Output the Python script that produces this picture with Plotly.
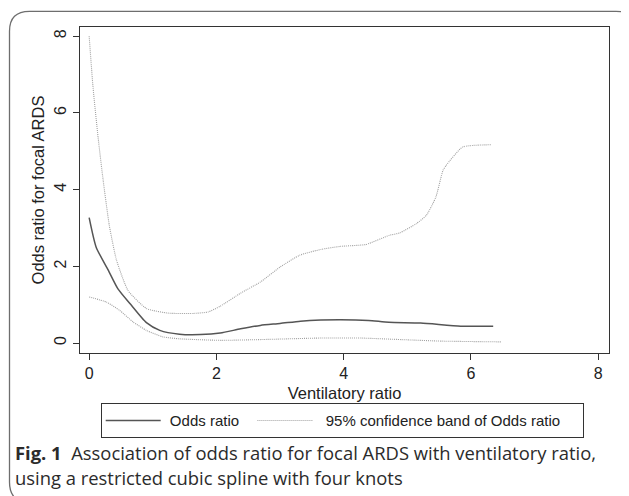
import plotly.graph_objects as go

# ---- data ----
x_or = [0, 0.11, 0.30, 0.45, 0.64, 0.90, 1.11, 1.42, 1.75, 2.06, 2.38, 2.69, 3.00, 3.32, 3.64, 3.95, 4.39, 4.71, 5.21, 5.84, 6.35]
y_or = [3.27, 2.50, 1.90, 1.42, 1.03, 0.53, 0.33, 0.23, 0.22, 0.26, 0.37, 0.46, 0.51, 0.57, 0.60, 0.61, 0.59, 0.54, 0.52, 0.44, 0.44]

x_up = [0, 0.06, 0.14, 0.22, 0.32, 0.43, 0.61, 0.90, 1.24, 1.62, 1.87, 2.06, 2.38, 2.69, 3.00, 3.31, 3.64, 3.95,
        4.35, 4.72, 4.88, 5.14, 5.30, 5.45, 5.56, 5.61, 5.87, 6.33]
y_up = [8.00, 6.68, 5.37, 4.24, 3.03, 2.16, 1.37, 0.90, 0.78, 0.77, 0.81, 0.96, 1.30, 1.59, 1.98, 2.29, 2.44, 2.52,
        2.57, 2.81, 2.87, 3.11, 3.33, 3.81, 4.50, 4.63, 5.11, 5.17]

x_lo = [0, 0.27, 0.48, 0.69, 0.90, 1.16, 1.42, 2.06, 2.69, 3.64, 4.26, 4.90, 5.53, 6.47]
y_lo = [1.20, 1.07, 0.85, 0.55, 0.33, 0.16, 0.11, 0.07, 0.09, 0.13, 0.13, 0.09, 0.05, 0.03]

x_ticks = [0, 2, 4, 6, 8]
y_ticks = [0, 2, 4, 6, 8]

x_title = "Ventilatory ratio"
y_title = "Odds ratio for focal ARDS"
name_or = "Odds ratio"
name_ci = "95% confidence band of Odds ratio"
caption_bold = "Fig. 1"
caption_line1 = "Association of odds ratio for focal ARDS with ventilatory ratio,"
caption_line2 = "using a restricted cubic spline with four knots"

# ---- layout geometry (page pixels; the page body adds an 8px offset) ----
OFF = 8
W, H = 629 - OFF, 496 - OFF
PL, PR, PT, PB = 80, 609, 26.7, 352.7          # plot box in page pixels
ML, MR, MT, MB = PL - OFF, W - (PR - OFF), PT - OFF, H - (PB - OFF)
PW = W - ML - MR
PH = H - MT - MB


def px2x(px):
    return (px - OFF - ML) / PW


def py2y(py):
    return (H - MB - (py - OFF)) / PH


NB = "\u00a0"
AXFONT = "Liberation Sans, Arial, sans-serif"
SOLID = "#555555"
DOT = "#a0a0a0"

fig = go.Figure()
fig.add_trace(go.Scatter(x=x_or, y=y_or, mode="lines", name=NB + name_or + NB * 2,
                         line=dict(color=SOLID, width=1.5, shape="spline", smoothing=0.6)))
fig.add_trace(go.Scatter(x=x_up, y=y_up, mode="lines", name=NB * 2 + name_ci + NB * 4, legendgroup="ci",
                         line=dict(color=DOT, width=1.1, dash="1px,1px", shape="spline", smoothing=0.5)))
fig.add_trace(go.Scatter(x=x_lo, y=y_lo, mode="lines", name=name_ci, legendgroup="ci", showlegend=False,
                         line=dict(color=DOT, width=1.1, dash="1px,1px", shape="spline", smoothing=0.5)))

axis_common = dict(showline=True, mirror=True, linecolor="#333333", linewidth=1.3,
                   ticks="outside", ticklen=6, tickwidth=1.2, tickcolor="#333333",
                   showgrid=False, zeroline=False,
                   tickfont=dict(family=AXFONT, size=16, color="#222222"))

fig.update_xaxes(range=[-0.144, 8.17], tickvals=x_ticks, ticktext=[str(v) for v in x_ticks],
                 title=dict(text=x_title, font=dict(family=AXFONT, size=16.5, color="#222222"), standoff=6),
                 **axis_common)
fig.update_yaxes(range=[-0.26, 8.24], tickvals=y_ticks, ticktext=[str(v) for v in y_ticks], tickangle=-90,
                 title=dict(text=y_title, font=dict(family=AXFONT, size=16.5, color="#222222"), standoff=3),
                 **axis_common)

# outer rounded frame
x0, x1 = px2x(9.5), px2x(636)
y0, y1 = py2y(502), py2y(11)
rx, ry = 20 / PW, 20 / PH
frame_path = (f"M{x0},{y0 + ry} L{x0},{y1 - ry} Q{x0},{y1} {x0 + rx},{y1} "
              f"L{x1 - rx},{y1} Q{x1},{y1} {x1},{y1 - ry} L{x1},{y0 + ry} "
              f"Q{x1},{y0} {x1 - rx},{y0} L{x0 + rx},{y0} Q{x0},{y0} {x0},{y0 + ry} Z")
fig.add_shape(type="path", path=frame_path, xref="paper", yref="paper",
              line=dict(color="#6e6e6e", width=1.3), layer="below")

CAPFONT = "Open Sans, sans-serif"
fig.add_annotation(x=px2x(13), y=py2y(452), xref="paper", yref="paper", xanchor="left", yanchor="middle",
                   showarrow=False, align="left",
                   text=f"<b>{caption_bold}</b>{NB}{NB}{caption_line1}",
                   font=dict(family=CAPFONT, size=18.4, color="#2b2b2b"))
fig.add_annotation(x=px2x(13), y=py2y(477), xref="paper", yref="paper", xanchor="left", yanchor="middle",
                   showarrow=False, align="left", text=caption_line2,
                   font=dict(family=CAPFONT, size=18.4, color="#2b2b2b"))

fig.update_layout(
    width=W, height=H,
    margin=dict(l=ML, r=MR, t=MT, b=MB, autoexpand=False),
    paper_bgcolor="white", plot_bgcolor="white",
    showlegend=True,
    legend=dict(orientation="h", x=px2x(100.7), y=py2y(403), xanchor="left", yanchor="top",
                bordercolor="#333333", borderwidth=1, bgcolor="white",
                font=dict(family=AXFONT, size=15, color="#222222"),
                itemwidth=55, itemclick=False, itemdoubleclick=False),
)

fig.write_html("out.html")
